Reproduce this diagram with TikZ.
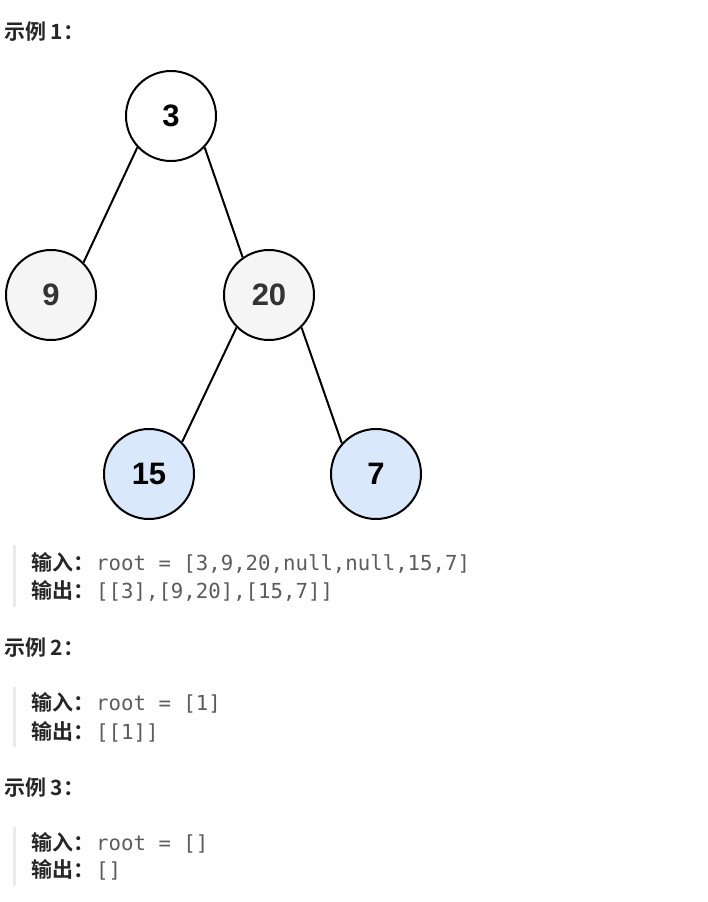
\documentclass[tikz,border=0pt]{standalone}
\usepackage{fontspec}
\setmainfont{Liberation Sans}
\newfontfamily\cjkb[BoldFont={Noto Sans CJK SC Bold}]{Noto Sans CJK SC}
\newfontfamily\codefont{DejaVu Sans Mono}
\definecolor{grayfill}{HTML}{F5F5F5}
\definecolor{bluefill}{HTML}{DAE8FC}
\definecolor{headtext}{HTML}{262626}
\definecolor{codetext}{HTML}{5C5C5C}
\definecolor{barcol}{HTML}{EBEBEB}
\definecolor{numdark}{HTML}{333333}
\begin{document}
\begin{tikzpicture}[x=1pt,y=-1pt,
  treenode/.style={circle,draw=black,line width=2pt,minimum size=90pt,inner sep=0pt,
    font=\fontsize{31}{31}\selectfont\bfseries},
  graynode/.style={treenode,fill=grayfill,text=numdark},
  bluenode/.style={treenode,fill=bluefill,text=black},
  whitenode/.style={treenode,fill=white,text=black},
  edge/.style={line width=2pt,black},
  heading/.style={anchor=base west,inner sep=0pt,text=headtext,font=\fontsize{21}{21}\selectfont\cjkb\bfseries},
  label/.style={anchor=base west,inner sep=0pt,text=headtext,font=\fontsize{21}{21}\selectfont\cjkb\bfseries},
  code/.style={anchor=base west,inner sep=0pt,text=codetext,font=\fontsize{20.7}{20.7}\selectfont\codefont},
  bar/.style={fill=barcol,draw=none}]
\useasboundingbox (0,0) rectangle (708,902);
\fill[white] (0,0) rectangle (708,902);

% tree
\node[whitenode] (n3) at (171,116) {3};
\node[graynode] (n9) at (51,295) {9};
\node[graynode] (n20) at (269,295) {20};
\node[bluenode] (n15) at (149,474) {15};
\node[bluenode] (n7) at (376,474) {7};
\draw[edge] (n3.223) -- (n9.45);
\draw[edge] (n3.317) -- (n20.125);
\draw[edge] (n20.225) -- (n15.44);
\draw[edge] (n20.315) -- (n7.138);

% example 1
\node[heading] (h1) at (4,39) {示例 1：};
\fill[bar] (13,545) rectangle (16,607);
\node[label] (in1) at (31,570) {输入：};
\node[code] (c1) at (96,570) {root = [3,9,20,null,null,15,7]};
\node[label] (out1) at (31,598) {输出：};
\node[code] (d1) at (96,598) {[[3],[9,20],[15,7]]};

% example 2
\node[heading] (h2) at (4,655) {示例 2：};
\fill[bar] (13,687) rectangle (16,747);
\node[label] (in2) at (31,710) {输入：};
\node[code] (c2) at (96,710) {root = [1]};
\node[label] (out2) at (31,739) {输出：};
\node[code] (d2) at (96,739) {[[1]]};

% example 3
\node[heading] (h3) at (4,795) {示例 3：};
\fill[bar] (13,827) rectangle (16,886);
\node[label] (in3) at (31,850) {输入：};
\node[code] (c3) at (96,850) {root = []};
\node[label] (out3) at (31,877) {输出：};
\node[code] (d3) at (96,877) {[]};
\end{tikzpicture}
\end{document}
